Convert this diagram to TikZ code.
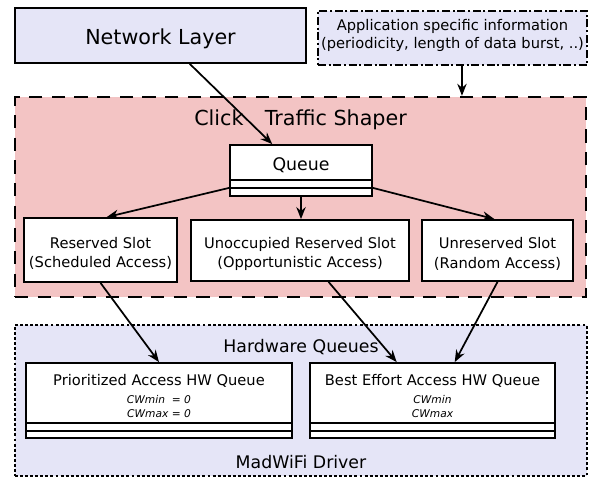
\documentclass[tikz,border=0pt]{standalone}
\usepackage{fontspec}
\setmainfont{DejaVu Sans}
\usetikzlibrary{arrows.meta,positioning,calc}
\definecolor{lav}{RGB}{229,229,247}
\definecolor{pnk}{RGB}{243,196,196}

\begin{document}
\begin{tikzpicture}[x=0.75pt, y=-0.75pt,
  box/.style={rectangle, draw=black, line width=1.35pt, fill=white, inner sep=0pt},
  area/.style={rectangle, draw=black, line width=1.8pt, inner sep=0pt},
  sz/.style 2 args={minimum width=#1*0.75pt, minimum height=#2*0.75pt},
  big/.style={font=\fontsize{15.5}{18}\selectfont},
  mid/.style={font=\fontsize{13}{15}\selectfont},
  txt/.style={font=\fontsize{11}{14.5}\selectfont, align=center},
  slot/.style={box, txt, text height=28pt},
  cw/.style={font=\fontsize{8}{10.5}\selectfont\itshape, align=center},
  arr/.style={-{Stealth[length=9pt, width=7pt]}, line width=1.3pt}
]
\useasboundingbox (0,0) rectangle (592,478);

% top row
\node[box, fill=lav, big, text height=16.3pt, sz={291}{55}] (net) at (160.5,35.5) {Network Layer};
\node[box, fill=lav, font=\fontsize{11}{13}\selectfont, align=center, text height=17.6pt,
  dash pattern=on 6pt off 2pt on 1.5pt off 2pt, sz={269}{54}] (app) at (452.5,38)
  {Application specific information\\(periodicity, length of data burst, ..)};

% traffic shaper
\node[area, dash pattern=on 10pt off 7pt, fill=pnk, sz={571}{200}] (shp) at (300.5,197) {};
\node[big] (shpt) at ($(shp.north)+(0,24)$) {Click\hspace{16pt}Traffic Shaper};

\node[box, sz={142}{51}] (que) at (301,170.5) {};
\node[mid] (quet) at ($(que.north)+(0,21)$) {Queue};
\draw[line width=1.35pt] ($(que.south west)+(0,-17)$) -- ($(que.south east)+(0,-17)$);
\draw[line width=1.35pt] ($(que.south west)+(0,-9)$) coordinate (quel) -- ($(que.south east)+(0,-9)$) coordinate (quer);

\node[slot, sz={153}{64}] (res) at (100.5,250) {Reserved Slot\\(Scheduled Access)};
\node[slot, sz={218}{61}] (uno) at (300,250.5) {Unoccupied Reserved Slot\\(Opportunistic Access)};
\node[slot, sz={151}{61}] (unr) at (497.5,250.5) {Unreserved Slot\\(Random Access)};

% driver
\node[area, dash pattern=on 2.2pt off 1.6pt, fill=lav, sz={572}{151}] (mad) at (301,400.5) {};
\node[mid] (madt) at ($(mad.north)+(0,23)$) {Hardware Queues};
\node[mid] (madb) at ($(mad.south)+(0,-15)$) {MadWiFi Driver};

\node[box, sz={266}{75}] (pri) at (159,400.5) {};
\node[box, sz={245}{75}] (bea) at (432.5,400.5) {};
\foreach \q in {pri,bea} {
  \draw[line width=1.35pt] ($(\q.south west)+(0,-16)$) -- ($(\q.south east)+(0,-16)$);
  \draw[line width=1.35pt] ($(\q.south west)+(0,-8)$) -- ($(\q.south east)+(0,-8)$);
}
\node[txt] (prit) at ($(pri.north)+(0,19)$) {Prioritized Access HW Queue};
\node[cw, below=-1.5pt of prit] {CWmin\ \ = 0\\CWmax = 0};
\node[txt] (beat) at ($(bea.north)+(0,19)$) {Best Effort Access HW Queue};
\node[cw, below=-1.5pt of beat] {CWmin\\CWmax};

% connectors
\coordinate (appb) at ($(app.south west)!0.535!(app.south east)$);
\draw[arr] ($(net.south west)!0.6!(net.south east)$) -- ($(que.north west)!0.3!(que.north east)$);
\draw[arr] (appb) -- (appb |- shp.north);
\draw[arr] (quel) -- ($(res.north west)!0.54!(res.north east)$);
\draw[arr] (que.south) -- (que.south |- uno.north);
\draw[arr] (quer) -- ($(unr.north west)!0.48!(unr.north east)$);
\draw[arr] (res.south) -- (pri.north);
\draw[arr] ($(uno.south west)!0.63!(uno.south east)$) -- ($(bea.north west)!0.355!(bea.north east)$);
\draw[arr] (unr.south) -- ($(bea.north west)!0.59!(bea.north east)$);

\end{tikzpicture}
\end{document}
